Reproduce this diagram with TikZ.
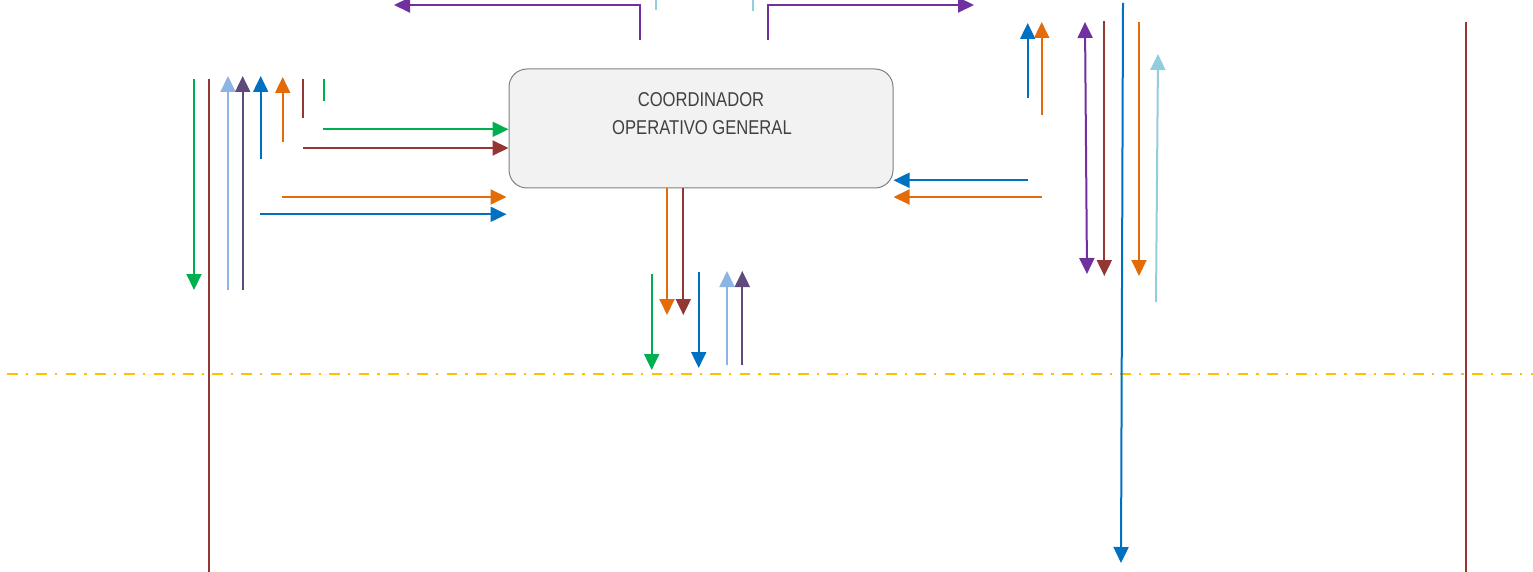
\documentclass[tikz,border=0pt]{standalone}
\usepackage{fontspec}
\newfontfamily\narrowfont[FakeStretch=0.83]{Liberation Sans}
\usetikzlibrary{arrows.meta}
\definecolor{cgreen}{HTML}{00B050}
\definecolor{cbrown}{HTML}{943634}
\definecolor{clblue}{HTML}{8DB4E2}
\definecolor{cdpurple}{HTML}{604A7B}
\definecolor{cblue}{HTML}{0070C0}
\definecolor{corange}{HTML}{E36C09}
\definecolor{cpurple}{HTML}{7030A0}
\definecolor{ccyan}{HTML}{92CDDC}
\definecolor{cgold}{HTML}{FFC000}
\definecolor{ctext}{HTML}{404040}
\tikzset{
  ln/.style={line width=2pt},
  arr/.style={ln,-{Triangle[length=16pt,width=15pt]}},
  darr/.style={ln,{Triangle[length=16pt,width=15pt]}-{Triangle[length=16pt,width=15pt]}},
  boxstyle/.style={draw=black!50,fill=black!5,line width=1pt,rounded corners=18pt,
    minimum width=384pt,minimum height=119pt,inner sep=0pt},
  txt/.style={font=\narrowfont\fontsize{20}{24}\selectfont,text=ctext,inner sep=0pt,anchor=base}
}
\begin{document}
\begin{tikzpicture}[x=1pt,y=-1pt]
\useasboundingbox (0,0) rectangle (1533,572);
% main box
\node[boxstyle] (box) at (701,128.5) {};
\node[txt] (t1) at (701,107) {COORDINADOR};
\node[txt] (t2) at (702,135) {OPERATIVO GENERAL};

% dash-dot horizontal line
\coordinate (dl) at (7,374);
\coordinate (dr) at (1533,374);
\draw[cgold,line width=2.4pt,dash pattern=on 10.7pt off 8pt on 2.3pt off 8.3pt] (dl) -- (dr);

% long vertical lines
\coordinate (bl1) at (209,79); \coordinate (bl2) at (209,572);
\draw[ln,cbrown] (bl1) -- (bl2);
\coordinate (br1) at (1466,22); \coordinate (br2) at (1466,572);
\draw[ln,cbrown] (br1) -- (br2);
\coordinate (lb1) at (1123,3); \coordinate (lb2) at (1121,563);
\draw[arr,cblue] (lb1) -- (lb2);

% left group verticals
\coordinate (a1) at (194,79); \coordinate (a2) at (194,290);
\draw[arr,cgreen] (a1) -- (a2);
\coordinate (b1) at (228,290); \coordinate (b2) at (228,76);
\draw[arr,clblue] (b1) -- (b2);
\coordinate (c1) at (242.7,290); \coordinate (c2) at (242.7,76);
\draw[arr,cdpurple] (c1) -- (c2);
\coordinate (d1) at (260.7,159); \coordinate (d2) at (260.7,76);
\draw[arr,cblue] (d1) -- (d2);
\coordinate (e1) at (282.7,142); \coordinate (e2) at (282.7,77);
\draw[arr,corange] (e1) -- (e2);
\coordinate (f1) at (303,79); \coordinate (f2) at (303,118);
\draw[ln,cbrown] (f1) -- (f2);
\coordinate (g1) at (323.7,79); \coordinate (g2) at (323.7,101);
\draw[ln,cgreen] (g1) -- (g2);

% left horizontals into box
\coordinate (h1) at (323,129.3);
\draw[arr,cgreen] (h1) -- (h1 -| box.west);
\coordinate (h2) at (303,148);
\draw[arr,cbrown] (h2) -- (h2 -| box.west);
\coordinate (h3) at (282,197);
\draw[arr,corange] (h3) -- ([xshift=-2pt]h3 -| box.west);
\coordinate (h4) at (260,214.3);
\draw[arr,cblue] (h4) -- ([xshift=-2pt]h4 -| box.west);

% below box
\coordinate (o1) at (667,315);
\draw[arr,corange] (o1 |- box.south) -- (o1);
\coordinate (o2) at (683.3,315);
\draw[arr,cbrown] (o2 |- box.south) -- (o2);
\coordinate (p1) at (651.7,274); \coordinate (p2) at (651.7,370);
\draw[arr,cgreen] (p1) -- (p2);
\coordinate (q1) at (698.7,272); \coordinate (q2) at (698.7,368);
\draw[arr,cblue] (q1) -- (q2);
\coordinate (r1) at (727,365); \coordinate (r2) at (727,271);
\draw[arr,clblue] (r1) -- (r2);
\coordinate (s1) at (742.3,365); \coordinate (s2) at (742.3,271);
\draw[arr,cdpurple] (s1) -- (s2);

% top
\coordinate (u1) at (640,40); \coordinate (u2) at (394,5);
\draw[arr,cpurple] (u1) |- (u2);
\coordinate (v1) at (768,40); \coordinate (v2) at (974,5);
\draw[arr,cpurple] (v1) |- (v2);
\coordinate (w1) at (656,0); \coordinate (w2) at (656,10);
\draw[ln,ccyan] (w1) -- (w2);
\coordinate (x1) at (752.7,0); \coordinate (x2) at (752.7,11);
\draw[ln,ccyan] (x1) -- (x2);

% right group
\coordinate (k1) at (1027.7,98); \coordinate (k2) at (1027.7,23);
\draw[arr,cblue] (k1) -- (k2);
\coordinate (l1) at (1041.7,115); \coordinate (l2) at (1041.7,22);
\draw[arr,corange] (l1) -- (l2);
\coordinate (m1) at (1085,22); \coordinate (m2) at (1087,274);
\draw[darr,cpurple] (m1) -- (m2);
\coordinate (n1) at (1104.3,21); \coordinate (n2) at (1104.3,276);
\draw[arr,cbrown] (n1) -- (n2);
\coordinate (y1) at (1139,22); \coordinate (y2) at (1139,276);
\draw[arr,corange] (y1) -- (y2);
\coordinate (z1) at (1156,302); \coordinate (z2) at (1158,54);
\draw[arr,ccyan] (z1) -- (z2);

% right horizontals into box
\coordinate (rh1) at (1028,180.3);
\draw[arr,cblue] (rh1) -- (rh1 -| box.east);
\coordinate (rh2) at (1042,197);
\draw[arr,corange] (rh2) -- (rh2 -| box.east);
\end{tikzpicture}
\end{document}
